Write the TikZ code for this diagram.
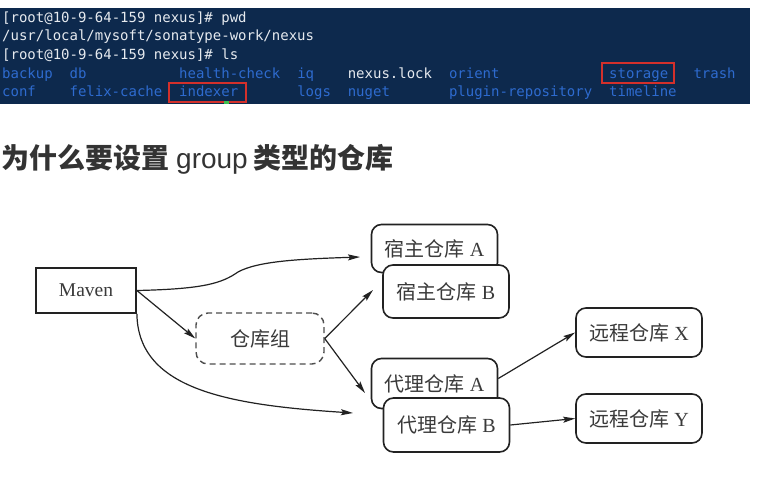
\documentclass[tikz,border=0pt]{standalone}
\usepackage{fontspec}
\setmainfont{Liberation Serif}
\newfontfamily\cjkhead{Noto Sans CJK SC}
\newfontfamily\latinhead{Liberation Sans}
\newfontfamily\monofnt{DejaVu Sans Mono}
\newfontfamily\song{Noto Sans CJK SC}
\usetikzlibrary{arrows.meta}
\definecolor{termbg}{HTML}{0D294D}
\definecolor{termfg}{HTML}{E6EAEF}
\definecolor{termblue}{HTML}{2E6BCF}
\definecolor{termred}{HTML}{D3302B}
\definecolor{termgreen}{HTML}{3FBF4F}
\definecolor{headc}{HTML}{333333}
\definecolor{linec}{HTML}{222222}
\definecolor{txtc}{HTML}{3A3A3A}
\tikzset{
  term/.style={anchor=base west, inner sep=0pt, font=\monofnt\fontsize{14}{14}\selectfont, text=termfg},
  dir/.style={term, text=termblue},
  redbox/.style={draw=termred, line width=1.5pt},
  repo/.style={draw=linec, line width=1.6pt, rounded corners=10pt, fill=white, inner sep=0pt,
    minimum width=126pt, text=txtc, font=\fontsize{20}{24}\selectfont},
  grp/.style={draw=linec!80, dashed, dash pattern=on 6pt off 4pt, line width=1.4pt, rounded corners=12pt,
    inner sep=0pt, text=txtc, font=\fontsize{20}{24}\selectfont},
  mavenbox/.style={draw=linec, line width=1.8pt, inner sep=0pt, text=txtc, font=\fontsize{19.5}{22}\selectfont},
  arr/.style={draw=linec, line width=1.2pt, -{Stealth[length=12pt,width=6pt,inset=2pt]}},
}
\begin{document}
\begin{tikzpicture}[x=1pt,y=-1pt]
\useasboundingbox (0,0) rectangle (765,479);
\fill[white] (0,0) rectangle (765,479);
% terminal
\fill[termbg] (0,8) rectangle (750,104);
\node[term] (l1) at (2,22) {[root@10-9-64-159 nexus]\# pwd};
\node[term] (l2) at (2,40.7) {/usr/local/mysoft/sonatype-work/nexus};
\node[term] (l3) at (2,59.4) {[root@10-9-64-159 nexus]\# ls};
\node[dir] (w1) at (2,78.1) {backup};
\node[dir] (w2) at (69.4,78.1) {db};
\node[dir] (w3) at (179,78.1) {health-check};
\node[dir] (w4) at (297.1,78.1) {iq};
\node[term] (w5) at (347.6,78.1) {nexus.lock};
\node[dir] (w6) at (448.8,78.1) {orient};
\node[dir] (w7) at (609,78.1) {storage};
\node[dir] (w8) at (693.3,78.1) {trash};
\node[dir] (v1) at (2,96.8) {conf};
\node[dir] (v2) at (69.4,96.8) {felix-cache};
\node[dir] (v3) at (179,96.8) {indexer};
\node[dir] (v4) at (297.1,96.8) {logs};
\node[dir] (v5) at (347.6,96.8) {nuget};
\node[dir] (v6) at (448.8,96.8) {plugin-repository};
\node[dir] (v7) at (609,96.8) {timeline};
\draw[redbox] (602,63) rectangle (674,83);
\draw[redbox] (169,83) rectangle (246,102);
\fill[termgreen] (224,101) rectangle (229,104);
% heading
\node[anchor=base west, inner sep=0pt, text=headc, font=\fontsize{28}{32}\selectfont] (head) at (1,168.5) {{\cjkhead\bfseries 为什么要设置}\hspace{7pt}{\latinhead group}\hspace{6pt}{\cjkhead\bfseries 类型的仓库}};
% diagram
\node[mavenbox, minimum width=100pt, minimum height=45pt] (maven) at (86,290.5) {Maven};
\node[grp, minimum width=128pt, minimum height=51pt] (group) at (260,338.5) {\song 仓库组};
\node[repo, minimum height=48pt] (hostA) at (434.5,248.5) {\song 宿主仓库\hspace{5pt}\rmfamily A};
\node[repo, minimum height=53pt] (hostB) at (446,291.5) {\song 宿主仓库\hspace{5pt}\rmfamily B};
\node[repo, minimum height=50pt] (proxyA) at (434.5,383.5) {\song 代理仓库\hspace{5pt}\rmfamily A};
\node[repo, minimum height=54pt] (proxyB) at (446.5,425) {\song 代理仓库\hspace{5pt}\rmfamily B};
\node[repo, minimum height=49pt] (remoteX) at (639,332.5) {\song 远程仓库\hspace{5pt}\rmfamily X};
\node[repo, minimum height=49pt] (remoteY) at (639,418.5) {\song 远程仓库\hspace{5pt}\rmfamily Y};
\coordinate (tA) at (360,257);
\coordinate (tB) at (353,413);
\coordinate (tG1) at (373,290);
\coordinate (tG2) at (365,393);
\draw[arr] (maven.east) .. controls (205,289) and (222,283) .. (238,272) .. controls (258,261) and (300,259) .. (tA);
\draw[arr] (maven.east) -- (group.west);
\draw[arr] (maven.south east) .. controls (138,390) and (230,405) .. (tB);
\draw[arr] (group.east) -- (tG1);
\draw[arr] (group.east) -- (tG2);
\draw[arr] ([yshift=5pt]proxyA.east) -- (remoteX.west);
\draw[arr] (proxyB.east) -- (remoteY.west);
\end{tikzpicture}
\end{document}
